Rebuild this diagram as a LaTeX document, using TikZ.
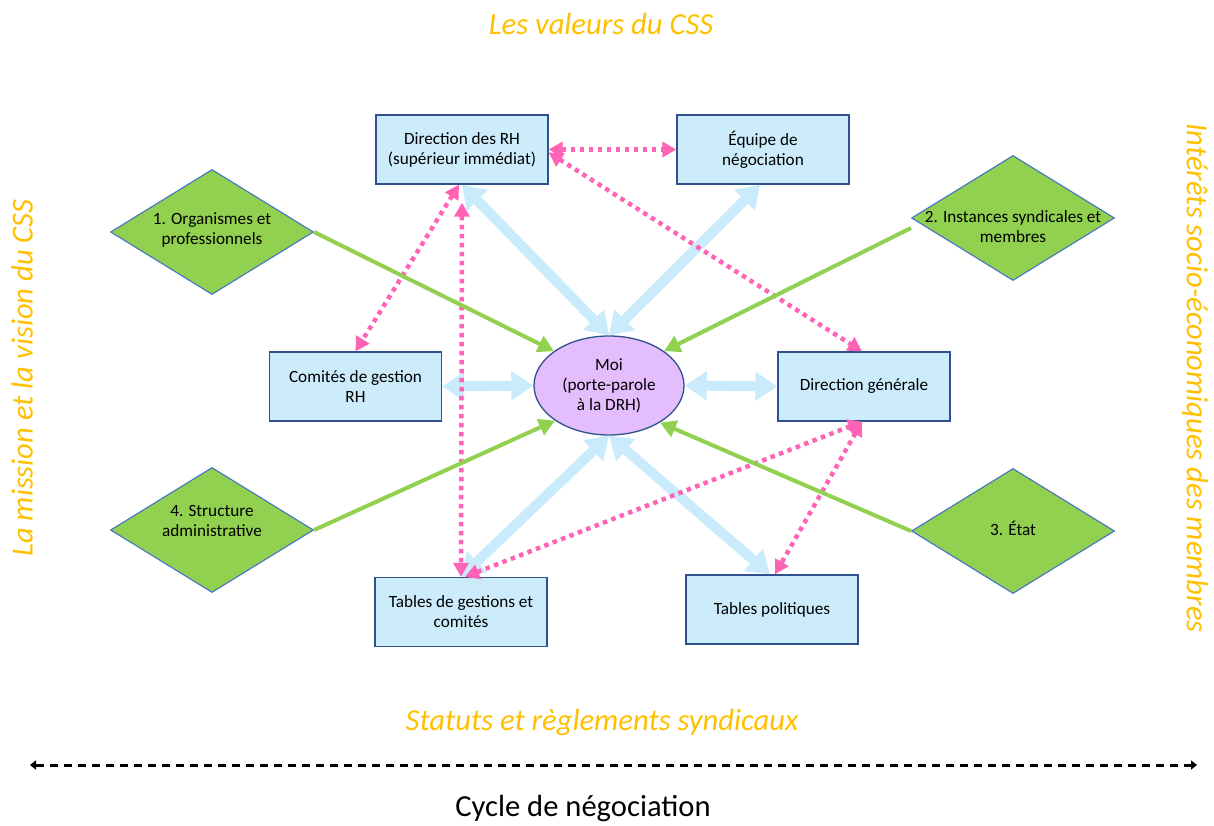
\documentclass[tikz,border=0pt]{standalone}
\usepackage{fontspec}
\setmainfont{Carlito}
\usetikzlibrary{shapes.geometric,arrows.meta}

\definecolor{boxfill}{RGB}{204,236,252}
\definecolor{boxline}{RGB}{47,82,143}
\definecolor{linkblue}{RGB}{202,235,252}
\definecolor{linkpink}{RGB}{255,99,181}
\definecolor{linkgreen}{RGB}{146,208,80}
\definecolor{meefill}{RGB}{228,190,252}
\definecolor{diamline}{RGB}{68,114,196}
\definecolor{themeorange}{RGB}{255,192,0}

\newcommand{\boxfont}{\fontsize{17.2}{20}\selectfont}
\newcommand{\themefont}{\fontsize{30.6}{34}\selectfont\itshape}

\begin{document}
\begin{tikzpicture}[x=1pt,y=-1pt,
  stakebox/.style={draw=boxline, line width=1.3pt, fill=boxfill,
    minimum width=172pt, minimum height=69pt, inner sep=0pt,
    align=center, font=\boxfont},
  meenode/.style={ellipse, draw=boxline, line width=1.3pt, fill=meefill,
    minimum width=150pt, minimum height=99pt, inner sep=0pt,
    align=center, font=\boxfont},
  diam/.style={diamond, draw=diamline, line width=1.1pt, fill=linkgreen,
    minimum width=203pt, minimum height=125pt, inner sep=0pt},
  diamtext/.style={align=center, font=\boxfont, inner sep=0pt},
  theme/.style={text=themeorange, font=\themefont, inner sep=0pt},
  blueconn/.style={draw=linkblue, line width=10pt,
    {Triangle[width=28pt,length=22pt]}-{Triangle[width=28pt,length=22pt]}},
  pinkconn/.style={draw=linkpink, line width=4.5pt, dash pattern=on 4.5pt off 4.5pt,
    {Triangle[width=15pt,length=14pt]}-{Triangle[width=15pt,length=14pt]}},
  greenconn/.style={draw=linkgreen, line width=4pt,
    -{Triangle[width=17pt,length=16pt]}},
  cycleconn/.style={line width=3pt, dash pattern=on 8pt off 6pt,
    {Triangle[width=9pt,length=6pt]}-{Triangle[width=9pt,length=6pt]}}
]
\useasboundingbox (0,0) rectangle (1214,826);

% framing themes
\node[theme] (valeurs) at (601,24) {Les valeurs du CSS};
\node[theme] (statuts) at (602,722) {Statuts et règlements syndicaux};
\node[theme, rotate=90] (mission) at (22,378) {La mission et la vision du CSS};
\node[theme, rotate=-90] (interets) at (1195,378) {Intérêts socio-économiques des membres};

% stakeholders
\node[stakebox] (drh) at (462,149.5) {Direction des RH\\(supérieur immédiat)};
\node[stakebox] (eq)  at (763,149.5) {Équipe de\\négociation};
\node[stakebox] (crh) at (355.5,386.5) {Comités de gestion\\RH};
\node[stakebox] (dg)  at (864,386.5) {Direction générale};
\node[stakebox] (tg)  at (461,612) {Tables de gestions et\\comités};
\node[stakebox] (tp)  at (772,609.5) {Tables politiques};
\node[meenode] (me) at (609,385.5) {Moi\\(porte-parole\\à la DRH)};

% external influences
\node[diam] (d1) at (212,232) {};
\node[diamtext] (d1t) at ([yshift=2pt]d1.center) {1. Organismes et\\professionnels};
\node[diam] (d2) at (1013,218) {};
\node[diamtext] (d2t) at ([yshift=-9pt]d2.center) {2. Instances syndicales et\\membres};
\node[diam] (d3) at (1013,531) {};
\node[diamtext] (d3t) at ([yshift=3pt]d3.center) {3. État};
\node[diam] (d4) at (212,530) {};
\node[diamtext] (d4t) at ([yshift=9pt]d4.center) {4. Structure\\administrative};

% two-way exchanges with me
\draw[blueconn] (drh.south) -- (me.north);
\draw[blueconn] ([xshift=-3pt]eq.south) -- (me.north);
\draw[blueconn] (crh.east) -- (me.west);
\draw[blueconn] (me.east) -- (dg.west);
\draw[blueconn] (me.south) -- (tg.north);
\draw[blueconn] (me.south) -- ([xshift=-2pt]tp.north);

% links between stakeholders
\draw[pinkconn] (drh.east) -- (eq.west);
\draw[pinkconn] ([yshift=-3pt]drh.east) -- ([xshift=-2pt]dg.north);
\draw[pinkconn] ([xshift=-3pt]drh.south) -- (crh.north);
\draw[pinkconn] ([yshift=-18pt]drh.south) -- (tg.north);
\draw[pinkconn] ([xshift=4pt]tg.north) -- ([xshift=-2pt]dg.south);
\draw[pinkconn] ([xshift=-2pt]dg.south) -- ([xshift=3pt]tp.north);

% influences on me
\draw[greenconn] (d1.east) -- (me.148);
\draw[greenconn] ([yshift=-10pt]d2.west) -- (me.32);
\draw[greenconn] (d3.west) -- (me.-36);
\draw[greenconn] (d4.east) -- (me.213);

% negotiation cycle
\coordinate (cycL) at (30,765);
\coordinate (cycR) at (1197,765);
\draw[cycleconn] (cycL) -- (cycR);
\node[font=\fontsize{30.6}{34}\selectfont, inner sep=0pt] (cycle) at (583,808) {Cycle de négociation};
\end{tikzpicture}
\end{document}
